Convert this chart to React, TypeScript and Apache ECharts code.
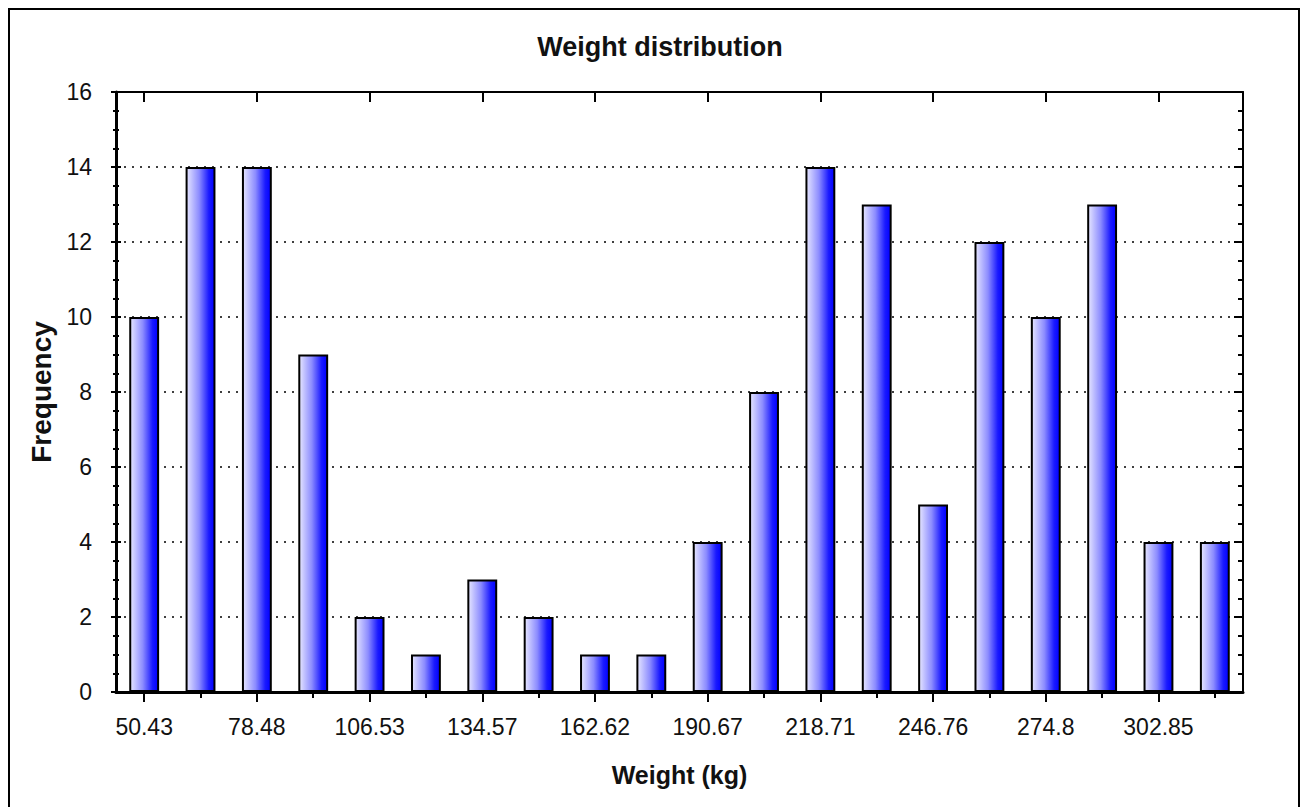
import React, { useEffect, useRef } from "react";
import * as echarts from "echarts";

const categories = [
  "50.43", "64.45", "78.48", "92.5", "106.53", "120.55", "134.57", "148.6", "162.62", "176.64",
  "190.67", "204.69", "218.71", "232.74", "246.76", "260.78", "274.8", "288.83", "302.85", "316.87",
];
const frequencies = [10, 14, 14, 9, 2, 1, 3, 2, 1, 1, 4, 8, 14, 13, 5, 12, 10, 13, 4, 4];
const titleText = "Weight distribution";
const xName = "Weight (kg)";
const yName = "Frequency";

const FONT = "'Liberation Sans', Arial, sans-serif";
const INK = "#111";

export default function App() {
  const ref = useRef<HTMLDivElement>(null);
  useEffect(() => {
    if (!ref.current) return;
    const chart = echarts.init(ref.current, null, { renderer: "svg" });
    const grid = { left: 116, top: 92, right: 59, bottom: 115, containLabel: false };
    const baseX = (extra: any) => ({
      type: "category",
      data: categories,
      boundaryGap: true,
      axisLabel: { show: false },
      axisLine: { show: false },
      splitLine: { show: false },
      ...extra,
    });
    const blackTick = { color: "#000", width: 2 };
    const option: any = {
      animation: false,
      backgroundColor: "#fff",
      title: {
        text: titleText,
        left: 655,
        top: 28,
        textAlign: "center",
        textStyle: { fontFamily: FONT, fontWeight: "bold", fontSize: 27, color: INK },
      },
      graphic: [
        {
          type: "rect",
          shape: { x: 9, y: 9, width: 1290, height: 820 },
          style: { fill: "none", stroke: "#000", lineWidth: 2 },
          silent: true,
        },
      ],
      grid,
      xAxis: [
        baseX({
          position: "bottom",
          axisLine: { show: true, onZero: false, lineStyle: { color: "#000", width: 3 } },
          axisTick: { show: true, interval: 1, alignWithLabel: true, length: 10, inside: false, lineStyle: blackTick },
          axisLabel: {
            show: true,
            interval: 1,
            margin: 23,
            fontFamily: FONT,
            fontSize: 23,
            color: INK,
          },
          name: xName,
          nameLocation: "middle",
          nameGap: 70,
          nameTextStyle: { fontFamily: FONT, fontWeight: "bold", fontSize: 25, color: INK },
        }),
        baseX({
          position: "bottom",
          axisTick: { show: true, interval: 1, alignWithLabel: true, length: 11, inside: true, lineStyle: blackTick },
        }),
        baseX({
          position: "bottom",
          axisTick: { show: true, interval: 0, alignWithLabel: true, length: 4, inside: false, lineStyle: blackTick },
        }),
        baseX({
          position: "top",
          axisLine: { show: true, onZero: false, lineStyle: { color: "#000", width: 2 } },
          axisTick: { show: true, interval: 1, alignWithLabel: true, length: 10, inside: true, lineStyle: blackTick },
        }),
        baseX({
          position: "top",
          axisTick: { show: true, interval: 0, alignWithLabel: true, length: 6, inside: true, lineStyle: blackTick },
        }),
      ],
      yAxis: [
        {
          type: "value",
          position: "left",
          min: 0,
          max: 16,
          interval: 2,
          axisLine: { show: true, lineStyle: { color: "#000", width: 3 } },
          axisTick: { show: true, length: 5, inside: false, lineStyle: blackTick },
          minorTick: { show: true, splitNumber: 4, length: 3, lineStyle: blackTick },
          axisLabel: { margin: 24, fontFamily: FONT, fontSize: 23, color: INK },
          splitLine: { show: true, lineStyle: { color: "#000", width: 1.5, type: [2, 6] } },
          name: yName,
          nameLocation: "middle",
          nameGap: 61,
          nameRotate: 90,
          nameTextStyle: { fontFamily: FONT, fontWeight: "bold", fontSize: 28, color: INK },
        },
        {
          type: "value",
          position: "left",
          min: 0,
          max: 16,
          interval: 2,
          axisLine: { show: false },
          axisTick: { show: true, length: 5, inside: true, lineStyle: blackTick },
          minorTick: { show: true, splitNumber: 4, length: 3, lineStyle: blackTick },
          axisLabel: { show: false },
          splitLine: { show: false },
        },
        {
          type: "value",
          position: "right",
          min: 0,
          max: 16,
          interval: 2,
          axisLine: { show: true, lineStyle: { color: "#000", width: 2 } },
          axisTick: { show: true, length: 9, inside: true, lineStyle: blackTick },
          minorTick: { show: true, splitNumber: 4, length: 5, lineStyle: blackTick },
          axisLabel: { show: false },
          splitLine: { show: false },
        },
      ],
      series: [
        {
          type: "bar",
          xAxisIndex: 0,
          yAxisIndex: 0,
          data: frequencies,
          barWidth: "53%",
          itemStyle: {
            borderColor: "#000",
            borderWidth: 2,
            color: new echarts.graphic.LinearGradient(0, 0, 1, 0, [
              { offset: 0, color: "#e6e6ff" },
              { offset: 0.45, color: "#8c8cff" },
              { offset: 0.8, color: "#1a1aff" },
              { offset: 1, color: "#0000ff" },
            ]),
          },
        },
      ],
    };
    chart.setOption(option);
    return () => chart.dispose();
  }, []);
  return (
    <div
      ref={ref}
      style={{ position: "absolute", left: 0, top: 0, width: 1302, height: 807, background: "#fff" }}
    />
  );
}
